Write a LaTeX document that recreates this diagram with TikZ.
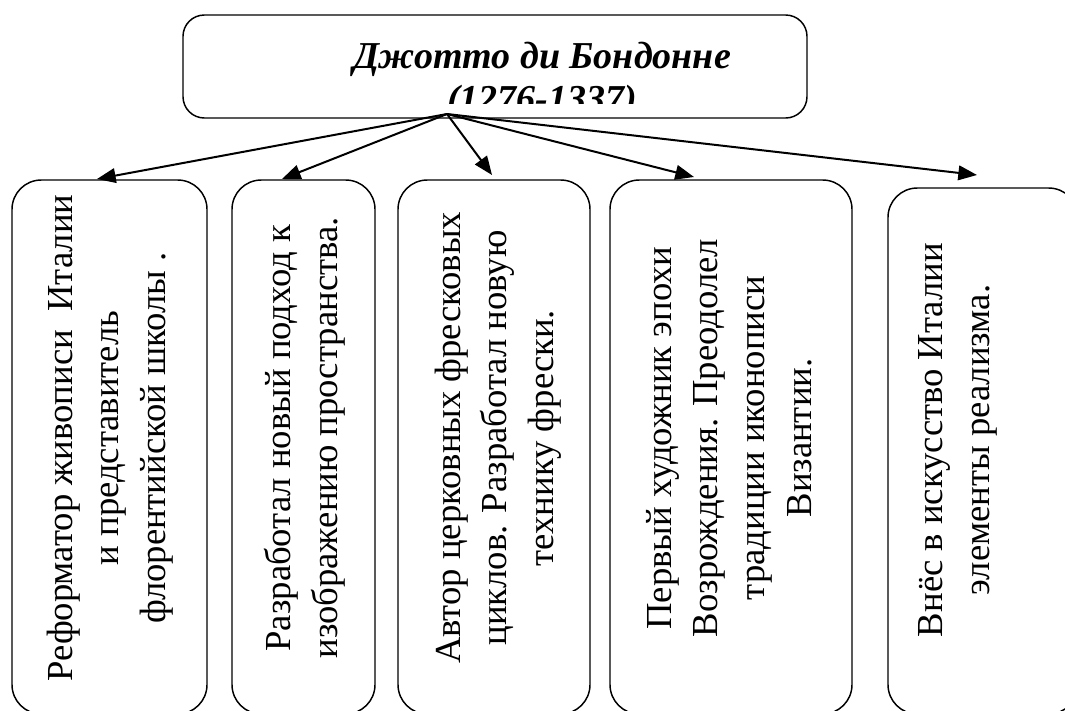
\documentclass[tikz,border=0pt]{standalone}
\usepackage{fontspec}
\setmainfont{Liberation Serif}
\usetikzlibrary{arrows.meta,fit}

\begin{document}
\begin{tikzpicture}[x=0.75pt, y=-0.75pt,
    box/.style={draw, line width=1.1pt, rounded corners=22pt, inner sep=0pt},
    txt/.style={rotate=90, align=center, inner sep=0pt, font=\fontsize{27.5}{35}\selectfont},
    arr/.style={-{Triangle[length=14pt,width=11pt]}, line width=1.5pt}]
  \useasboundingbox[fill=white] (0,0) rectangle (1065,711);
  \clip (0,0) rectangle (1065,711);

  % Title box (second line is cut by the box)
  \node[box, rounded corners=16pt, fit={(183,15) (807,118)}] (top) {};
  \begin{scope}
    \clip (183,15) rectangle (807,103);
    \node[align=center, inner sep=0pt, font=\bfseries\itshape\fontsize{28.5}{32}\selectfont]
      (title) at (542,81) {Джотто ди Бондонне\\(1276-1337)};
  \end{scope}

  % Boxes
  \node[box, fit={(12,180) (207,714)}] (b1) {};
  \node[box, fit={(232,180) (375,714)}] (b2) {};
  \node[box, fit={(398,180) (590,714)}] (b3) {};
  \node[box, fit={(610,180) (852,714)}] (b4) {};
  \node[box, fit={(888,188) (1078,714)}] (b5) {};

  % Texts
  \node[txt] (t1) at (110,438) {Реформатор живописи\ \ Италии\\и представитель\\флорентийской школы .};
  \node[txt] (t2) at (305,438) {Разработал новый подход к\\изображению пространства.};
  \node[txt] (t3) at (498,438) {Автор церковных фресковых\\циклов. Разработал новую\\технику фрески.};
  \node[txt] (t4) at (729,438) {Первый художник эпохи\\Возрождения. Преодолел\\традиции иконописи\\Византии.};
  \node[txt] (t5) at (958,440) {Внёс в искусство Италии\\элементы реализма.};

  % Arrows
  \coordinate (src) at (447,114);
  \foreach \i/\x/\y in {1/97/179, 2/282/179, 3/492/175, 4/694/177, 5/977/175} {
    \coordinate (e\i) at (\x,\y);
    \draw[arr] (src) -- (e\i);
  }
\end{tikzpicture}
\end{document}
